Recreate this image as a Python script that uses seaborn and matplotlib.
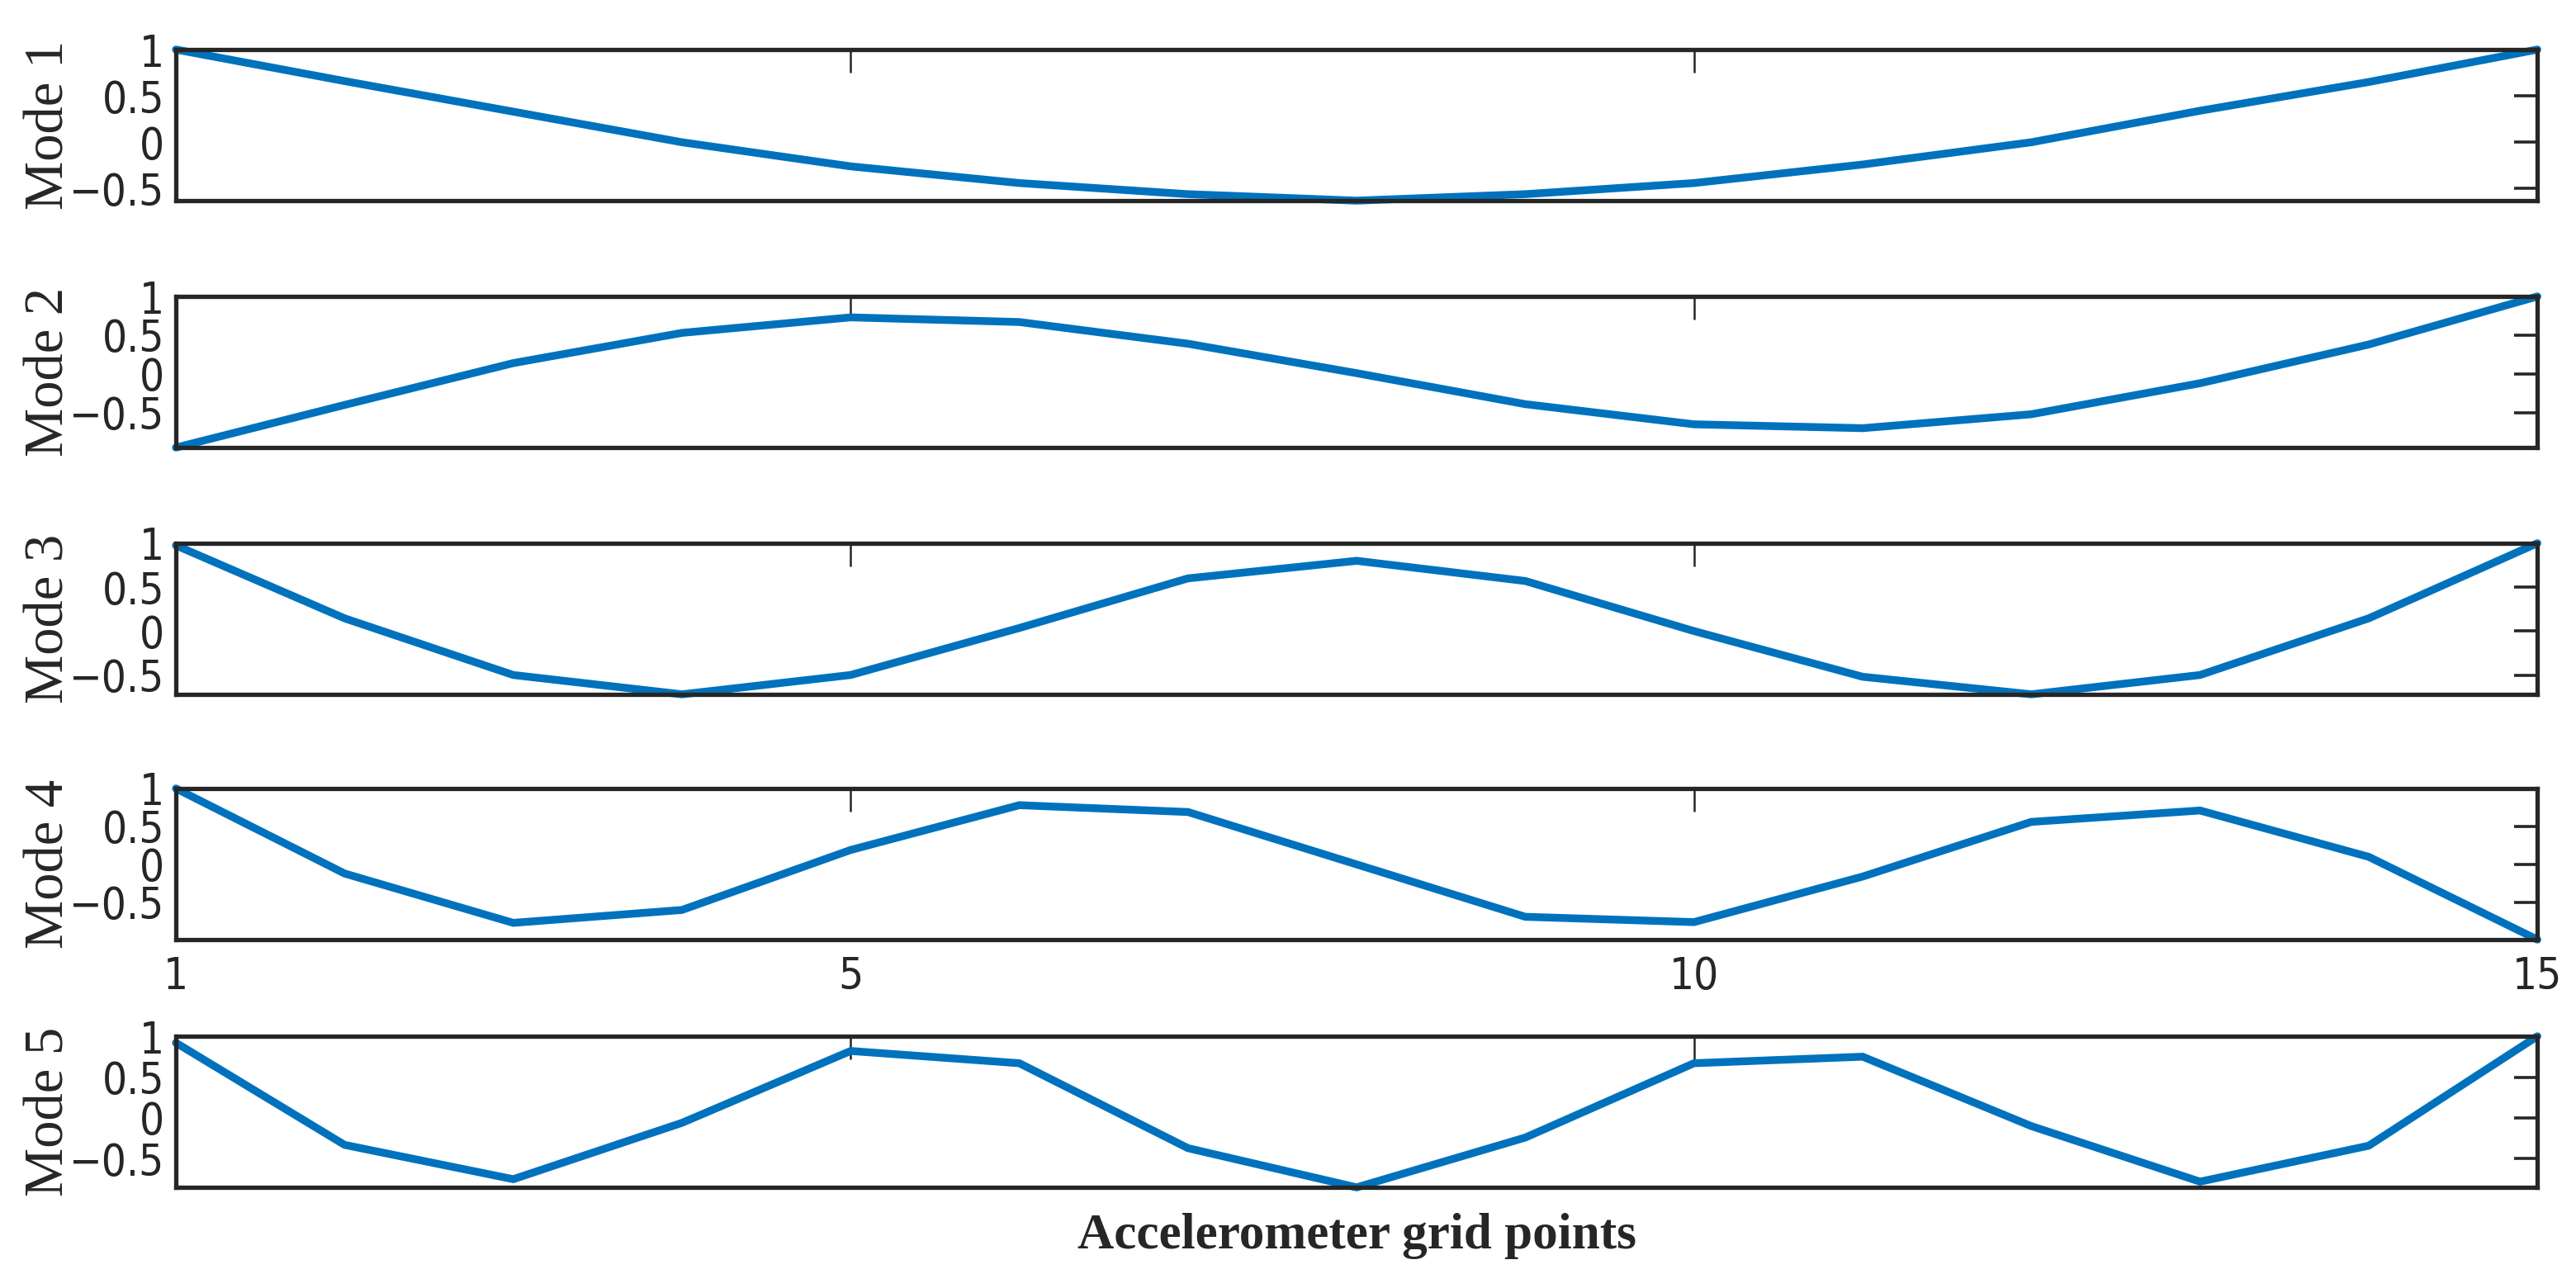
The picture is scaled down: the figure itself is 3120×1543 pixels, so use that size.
import numpy as np
import pandas as pd
import matplotlib
matplotlib.use("Agg")
import matplotlib.pyplot as plt
import seaborn as sns
from matplotlib import font_manager as fm

# ---- data ----
grid_points = list(range(1, 16))
mode1 = [1.0, 0.66, 0.33, 0.0, -0.26, -0.44, -0.56, -0.63, -0.56, -0.44, -0.24, 0.0, 0.34, 0.65, 1.0]
mode2 = [-0.95, -0.40, 0.14, 0.53, 0.73, 0.67, 0.39, 0.01, -0.39, -0.65, -0.70, -0.52, -0.12, 0.38, 1.0]
mode3 = [0.975, 0.145, -0.50, -0.72, -0.50, 0.035, 0.60, 0.80, 0.57, 0.0, -0.52, -0.72, -0.50, 0.145, 1.0]
mode4 = [1.0, -0.12, -0.77, -0.60, 0.19, 0.78, 0.69, 0.0, -0.69, -0.76, -0.16, 0.56, 0.71, 0.10, -0.99]
mode5 = [0.92, -0.33, -0.75, -0.06, 0.82, 0.67, -0.37, -0.85, -0.24, 0.67, 0.75, -0.10, -0.78, -0.34, 1.0]
modes = [mode1, mode2, mode3, mode4, mode5]
mode_labels = ["Mode 1", "Mode 2", "Mode 3", "Mode 4", "Mode 5"]
xticks = [1, 5, 10, 15]
yticks = [-0.5, 0, 0.5, 1]
ytick_labels = ["\u22120.5", "0", "0.5", "1"]
xlabel = "Accelerometer grid points"

sns.set_theme(style="white")
fonts = fm.fontManager.ttflist
names = {f.name for f in fonts}
tick_stretch = "normal"
if "Liberation Sans Narrow" in names:
    tick_family, tick_size = "Liberation Sans Narrow", 22
else:
    cond = [f.name for f in fonts if str(f.stretch) in ("condensed", "semi-condensed", "575", "600", "650", "700")]
    if any("DejaVu Sans" == n for n in cond):
        tick_family, tick_size, tick_stretch = "DejaVu Sans", 19, "condensed"
    else:
        tick_family, tick_size = "Liberation Sans", 19
label_family = "Liberation Serif" if "Liberation Serif" in names else "DejaVu Serif"
plt.rcParams["font.family"] = [tick_family, "DejaVu Sans"]
plt.rcParams["font.stretch"] = tick_stretch

line_color = "#0072BD"
spine_color = "#262626"

fig = plt.figure(figsize=(15.6, 7.715), dpi=200)
left, width, height = 0.0683, 0.9167, 0.1186
bottoms = [0.8425, 0.6487, 0.4550, 0.2625, 0.0680]

for i, (vals, lab, b) in enumerate(zip(modes, mode_labels, bottoms)):
    ax = fig.add_axes([left, b, width, height])
    df = pd.DataFrame({"x": grid_points, "y": vals})
    sns.lineplot(data=df, x="x", y="y", ax=ax, color=line_color, linewidth=3.4,
                 clip_on=False, solid_joinstyle="miter")
    ax.set_xlim(1, 15)
    ax.set_ylim(min(vals), max(vals))
    ax.set_xticks(xticks)
    ax.set_yticks(yticks)
    ax.tick_params(axis="both", direction="in", length=10, width=1.3, color=spine_color,
                   top=True, right=True, labelsize=tick_size, labelcolor=spine_color)
    ax.tick_params(axis="x", width=0.9, pad=7)
    ax.tick_params(axis="y", pad=5)
    if i == 3:
        ax.set_xticklabels([str(t) for t in xticks])
    else:
        ax.set_xticklabels([])
    ax.set_yticklabels(ytick_labels)
    for s in ax.spines.values():
        s.set_color(spine_color)
        s.set_linewidth(1.9)
        s.set_visible(True)
    ax.set_xlabel("")
    ax.set_ylabel(lab, family=label_family, fontsize=24, color=spine_color)
    ax.yaxis.set_label_coords(-0.043, 0.5)
    if i == 4:
        ax.set_xlabel(xlabel, family=label_family, fontsize=22, fontweight="bold",
                      color=spine_color, labelpad=4)
    ax.grid(False)
    ax.set_facecolor("white")

fig.savefig("out.png", dpi=200, facecolor="white")
